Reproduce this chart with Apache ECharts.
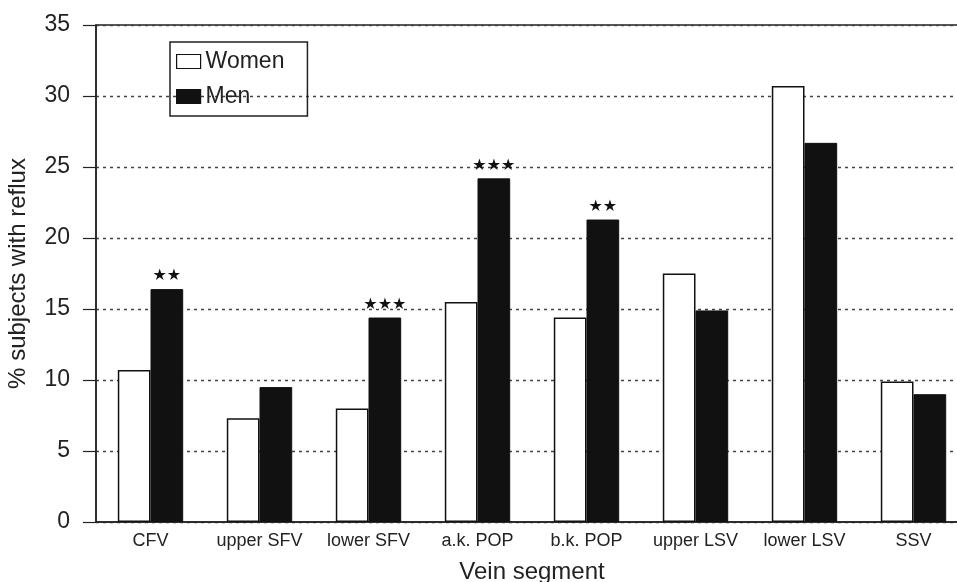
<!DOCTYPE html>
<html>
<head>
<meta charset="utf-8">
<script src="https://cdn.jsdelivr.net/npm/echarts@6/dist/echarts.min.js"></script>
<style>html,body{margin:0;padding:0;background:#fff}#c{width:957px;height:582px}</style>
</head>
<body>
<div id="c"></div>
<script>
const categories = ["CFV", "upper SFV", "lower SFV", "a.k. POP", "b.k. POP", "upper LSV", "lower LSV", "SSV"];
const women = [10.7, 7.3, 8.0, 15.5, 14.4, 17.5, 30.7, 9.9];
const men = [16.4, 9.5, 14.4, 24.2, 21.3, 14.9, 26.7, 9.0];
const significance = ["★★", "", "★★★", "★★★", "★★", "", "", ""];
const yTicks = [0, 5, 10, 15, 20, 25, 30, 35];

const chart = echarts.init(document.getElementById('c'), null, {renderer: 'canvas'});
const font = 'Liberation Sans, Arial, sans-serif';
chart.setOption({
  animation: false,
  backgroundColor: '#fff',
  grid: {left: 96, width: 872, top: 25, bottom: 60, outerBoundsMode: 'none', containLabel: false,
    show: true, borderColor: '#222', borderWidth: 1.5, backgroundColor: 'transparent'},
  legend: {
    left: 170, top: 42, orient: 'vertical', icon: 'rect',
    borderColor: '#222', borderWidth: 1.5, padding: [8, 23, 8, 6],
    itemWidth: 24, itemHeight: 14, itemGap: 12,
    itemStyle: {borderColor: '#111', borderWidth: 1.2},
    textStyle: {fontFamily: font, fontSize: 23, color: '#222'},
    data: ['Women', 'Men']
  },
  xAxis: {
    type: 'category', data: categories,
    name: 'Vein segment', nameLocation: 'middle', nameGap: 38,
    nameTextStyle: {fontFamily: font, fontSize: 24, color: '#222'},
    axisLine: {lineStyle: {color: '#222', width: 1.5}},
    axisTick: {show: false},
    axisLabel: {fontFamily: font, fontSize: 18, color: '#222', margin: 10, interval: 0}
  },
  yAxis: {
    type: 'value', min: yTicks[0], max: yTicks[yTicks.length - 1], interval: 5,
    name: '% subjects with reflux', nameLocation: 'middle', nameGap: 66,
    nameTextStyle: {fontFamily: font, fontSize: 24, color: '#222'},
    axisLine: {show: true, lineStyle: {color: '#222', width: 1.5}},
    axisTick: {show: true, length: 13, lineStyle: {color: '#222', width: 1.2}},
    axisLabel: {fontFamily: font, fontSize: 23, color: '#222', margin: 26},
    splitLine: {show: true, lineStyle: {color: '#444', type: [3, 4], width: 1.3}}
  },
  series: [
    {
      name: 'Women', type: 'bar', data: women, barGap: '0%', barCategoryGap: '40%',
      itemStyle: {color: '#fff', borderColor: '#111', borderWidth: 1.5}
    },
    {
      name: 'Men', type: 'bar', data: men,
      itemStyle: {color: '#111', borderColor: '#111', borderWidth: 1},
      label: {
        show: true, position: 'top', distance: 5,
        formatter: p => significance[p.dataIndex],
        fontFamily: 'DejaVu Sans', fontSize: 16, color: '#111'
      }
    }
  ]
});
</script>
</body>
</html>
